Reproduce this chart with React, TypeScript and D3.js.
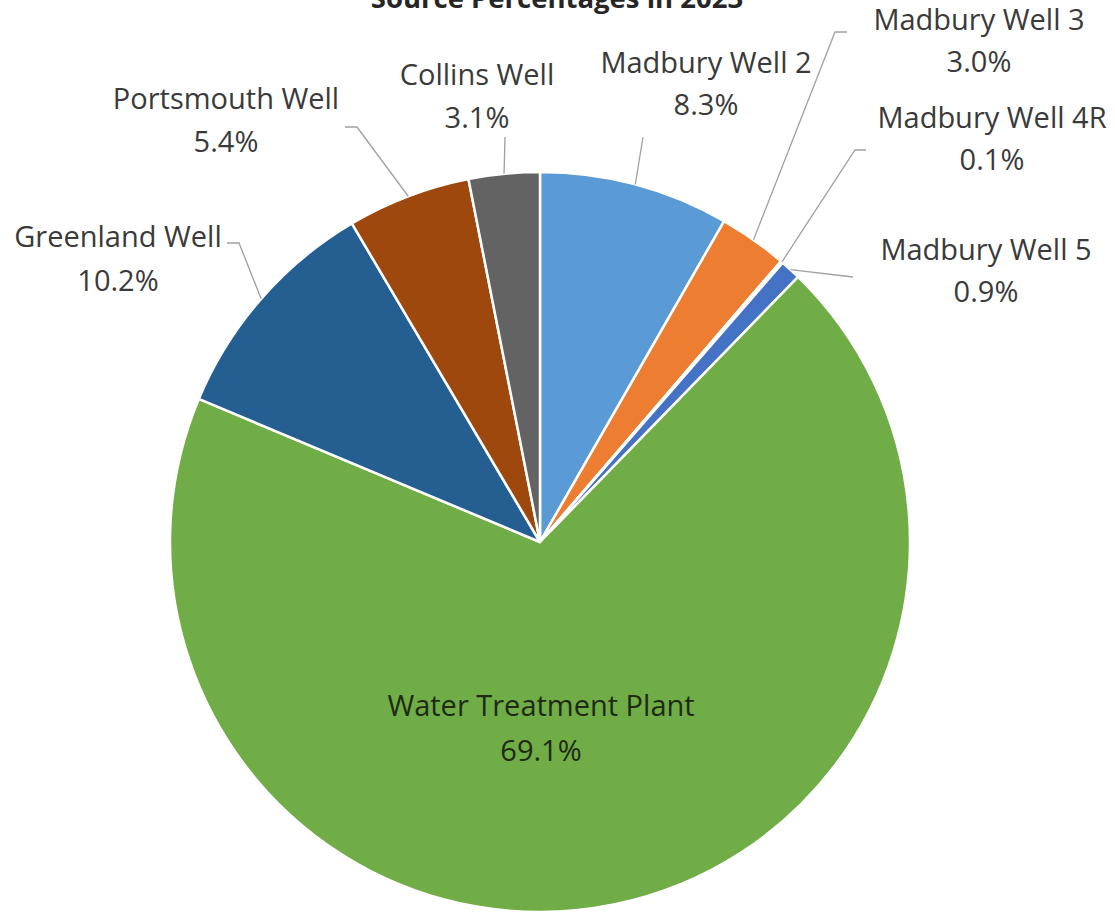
import React from "react";
import * as d3 from "d3";

const categories = [
  "Madbury Well 2",
  "Madbury Well 3",
  "Madbury Well 4R",
  "Madbury Well 5",
  "Water Treatment Plant",
  "Greenland Well",
  "Portsmouth Well",
  "Collins Well",
];
const percentages = [8.3, 3.0, 0.1, 0.9, 69.1, 10.2, 5.4, 3.1];
const colors = ["#5B9BD5", "#ED7D31", "#A5A5A5", "#4472C4", "#70AD47", "#255E91", "#9E480E", "#636363"];
const title = "Source Percentages in 2023";

// label layout: center x, first baseline y, leader polyline (excluding start on arc); null = inside
const labelLayout: { x: number; y: number; gap: number; leader: [number, number][] | null; inside?: boolean }[] = [
  { x: 706, y: 73, gap: 42, leader: [[643, 137]] },
  { x: 979, y: 30, gap: 42, leader: [[835, 32], [847, 32]] },
  { x: 992, y: 128, gap: 42, leader: [[855, 150], [866, 150]] },
  { x: 986, y: 260, gap: 42, leader: [[853, 277]] },
  { x: 541, y: 716, gap: 45, leader: null, inside: true },
  { x: 118, y: 247, gap: 44, leader: [[239, 243], [227, 243]] },
  { x: 226, y: 109, gap: 43, leader: [[357, 127], [345, 127]] },
  { x: 477, y: 85, gap: 43, leader: [[505, 137]] },
];

const W = 1115;
const H = 914;
const cx = 540;
const cy = 542;
const R = 370;

export default function App() {
  const pie = d3
    .pie<number>()
    .sort(null)
    .value((d) => d)
    .startAngle(0)
    .endAngle(2 * Math.PI);
  const arcs = pie(percentages);
  const arcGen = d3.arc<d3.PieArcDatum<number>>().innerRadius(0).outerRadius(R);
  const line = d3.line();

  return (
    <svg
      width={W}
      height={H}
      style={{ position: "absolute", left: 0, top: 0, background: "#fff" }}
      fontFamily="'Open Sans', sans-serif"
    >
      <text x={557} y={8} textAnchor="middle" fontWeight={700} fontSize={27.5} fill="#262626">
        {title}
      </text>
      <g transform={`translate(${cx},${cy})`}>
        {arcs.map((a, i) => (
          <path key={i} d={arcGen(a) || ""} fill={colors[i]} stroke="#fff" strokeWidth={2.5} strokeLinejoin="round" />
        ))}
      </g>
      {arcs.map((a, i) => {
        const L = labelLayout[i];
        if (!L.leader) return null;
        const mid = (a.startAngle + a.endAngle) / 2;
        const start: [number, number] = [cx + R * Math.sin(mid), cy - R * Math.cos(mid)];
        return (
          <path key={"l" + i} d={line([start, ...L.leader]) || ""} fill="none" stroke="#a0a0a0" strokeWidth={1.3} />
        );
      })}
      {arcs.map((a, i) => {
        const L = labelLayout[i];
        return (
          <text key={"t" + i} textAnchor="middle" fontSize={29} fill={L.inside ? "#1e2a14" : "#3a3a3a"}>
            <tspan x={L.x} y={L.y}>
              {categories[i]}
            </tspan>
            <tspan x={L.x} y={L.y + L.gap}>
              {percentages[i].toFixed(1) + "%"}
            </tspan>
          </text>
        );
      })}
    </svg>
  );
}
